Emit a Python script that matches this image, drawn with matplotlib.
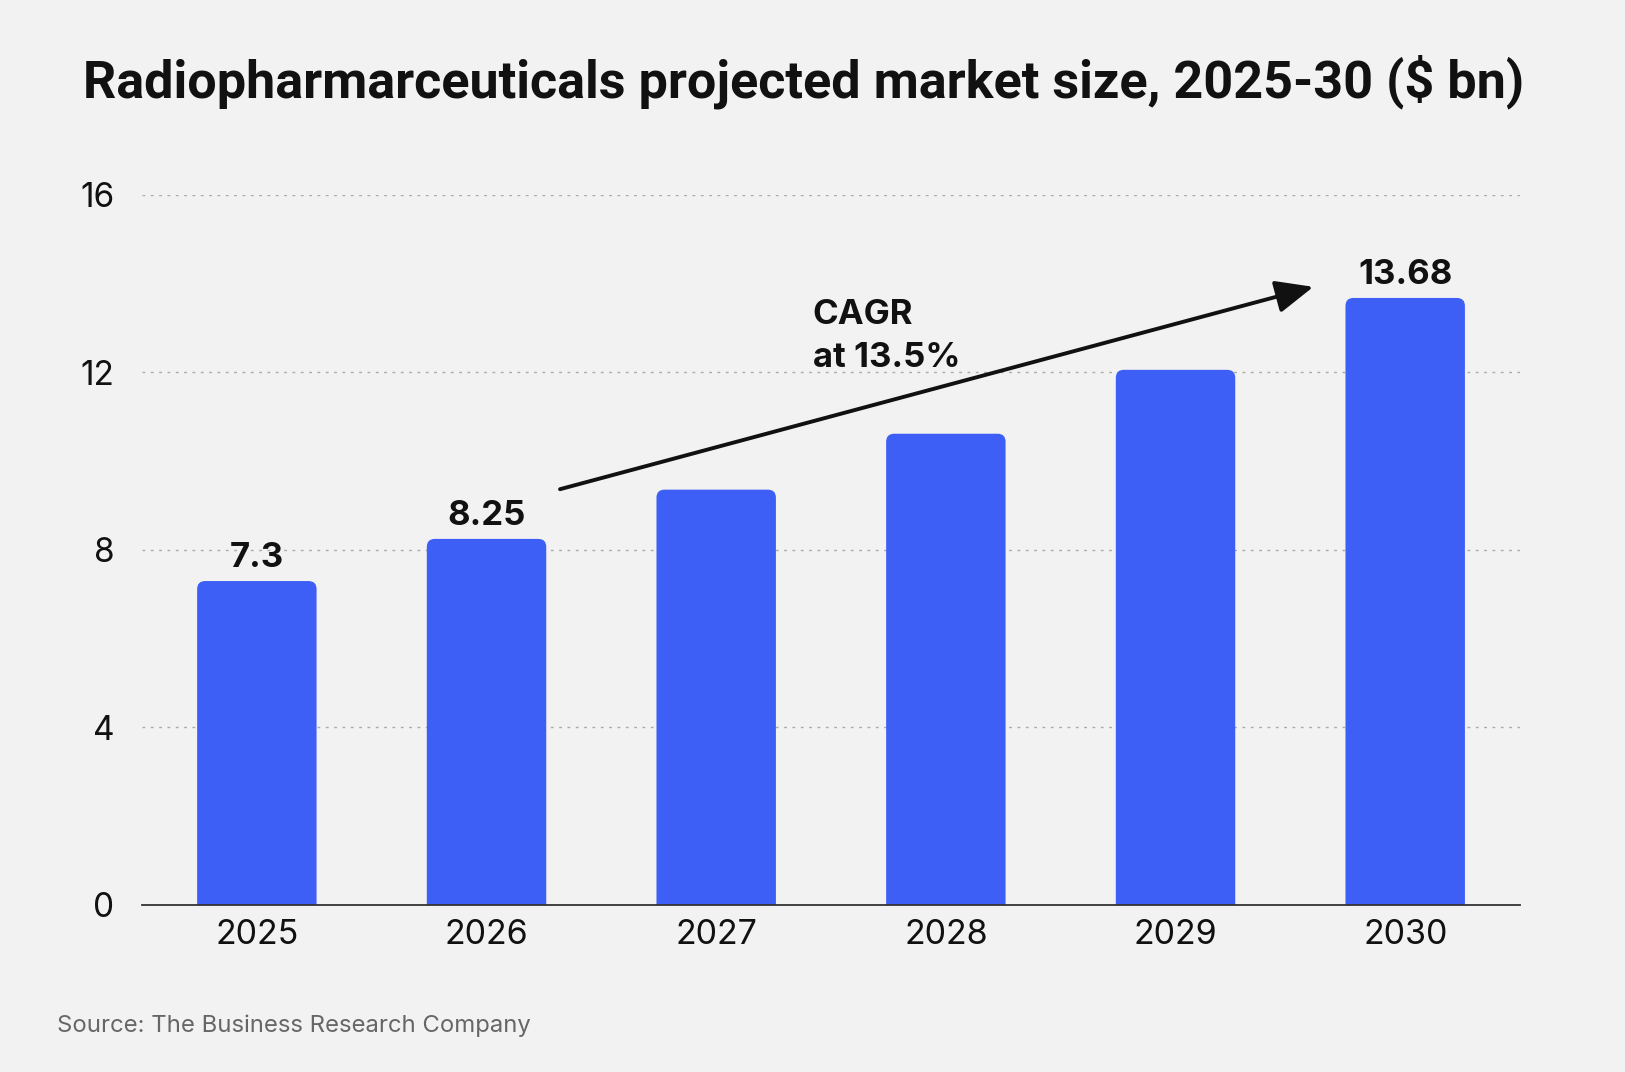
import matplotlib
matplotlib.use("Agg")
import matplotlib.pyplot as plt
from matplotlib.patches import FancyBboxPatch

years = ["2025", "2026", "2027", "2028", "2029", "2030"]
values = [7.3, 8.25, 9.36, 10.62, 12.06, 13.68]
labeled = {0: "7.3", 1: "8.25", 5: "13.68"}
yticks = [0, 4, 8, 12, 16]
title = "Radiopharmarceuticals projected market size, 2025-30 ($ bn)"
source = "Source: The Business Research Company"
cagr_text = "CAGR\nat 13.5%"
arrow_start = (1.32, 9.37)
arrow_end = (4.6, 13.93)
cagr_pos = (2.42, 12.8)

BG = "#f2f2f2"
BAR = "#3d5ff5"
FONT = "Inter"

plt.rcParams["font.family"] = [FONT, "DejaVu Sans"]

fig = plt.figure(figsize=(16.25, 10.72), dpi=100, facecolor=BG)
ax = fig.add_axes([0.0874, 0.1558, 0.848, 0.6623])
ax.set_facecolor(BG)

x = list(range(len(years)))
width = 0.52
bars = ax.bar(x, values, width=width, color=BAR, alpha=0)

rx = 0.035
ry = 0.18
for b in bars:
    x0, w, h = b.get_x(), b.get_width(), b.get_height()
    p = FancyBboxPatch((x0, -2 * ry), w, h + 2 * ry,
                       boxstyle=f"round,pad=0,rounding_size={rx}",
                       mutation_aspect=ry / rx,
                       facecolor=BAR, edgecolor="none", zorder=2)
    ax.add_patch(p)
    p.set_clip_path(ax.patch)

for i, txt in labeled.items():
    ax.annotate(txt, (x[i], values[i]), xytext=(0, 5), textcoords="offset points",
                ha="center", va="bottom", fontsize=25, fontweight="bold",
                color="#111111", zorder=4)

ax.set_xlim(-0.5, 5.5)
ax.set_ylim(0, 16)
ax.set_yticks(yticks)
ax.set_yticklabels([str(t) for t in yticks])
ax.set_xticks(x)
ax.set_xticklabels(years)
ax.tick_params(axis="y", length=0, pad=20, labelsize=24, labelcolor="#111111")
ax.tick_params(axis="x", length=0, pad=10, labelsize=24.5, labelcolor="#111111")

for t in yticks[1:]:
    ax.axhline(t, color="#aaaaaa", lw=1, ls=(0, (2, 4)), zorder=1)

for s in ["top", "right", "left"]:
    ax.spines[s].set_visible(False)
ax.spines["bottom"].set_color("#333333")
ax.spines["bottom"].set_linewidth(1.3)
ax.spines["bottom"].set_zorder(3)

ax.annotate("", xy=arrow_end, xytext=arrow_start,
            arrowprops=dict(arrowstyle="-|>,head_length=2.3,head_width=1.0",
                            color="#111111", lw=2.8, shrinkA=0, shrinkB=0),
            zorder=5)
ax.text(cagr_pos[0], cagr_pos[1], cagr_text, ha="left", va="center",
        fontsize=25, fontweight="bold", color="#111111", linespacing=1.44, zorder=5)

fig.text(0.051, 0.924, title, ha="left", va="center", fontsize=37.5,
         fontweight="bold", color="#111111", family=["Roboto", "DejaVu Sans"])
fig.text(0.035, 0.043, source, ha="left", va="center", fontsize=17.2,
         color="#666666")

fig.savefig("out.png", dpi=100, facecolor=BG)
